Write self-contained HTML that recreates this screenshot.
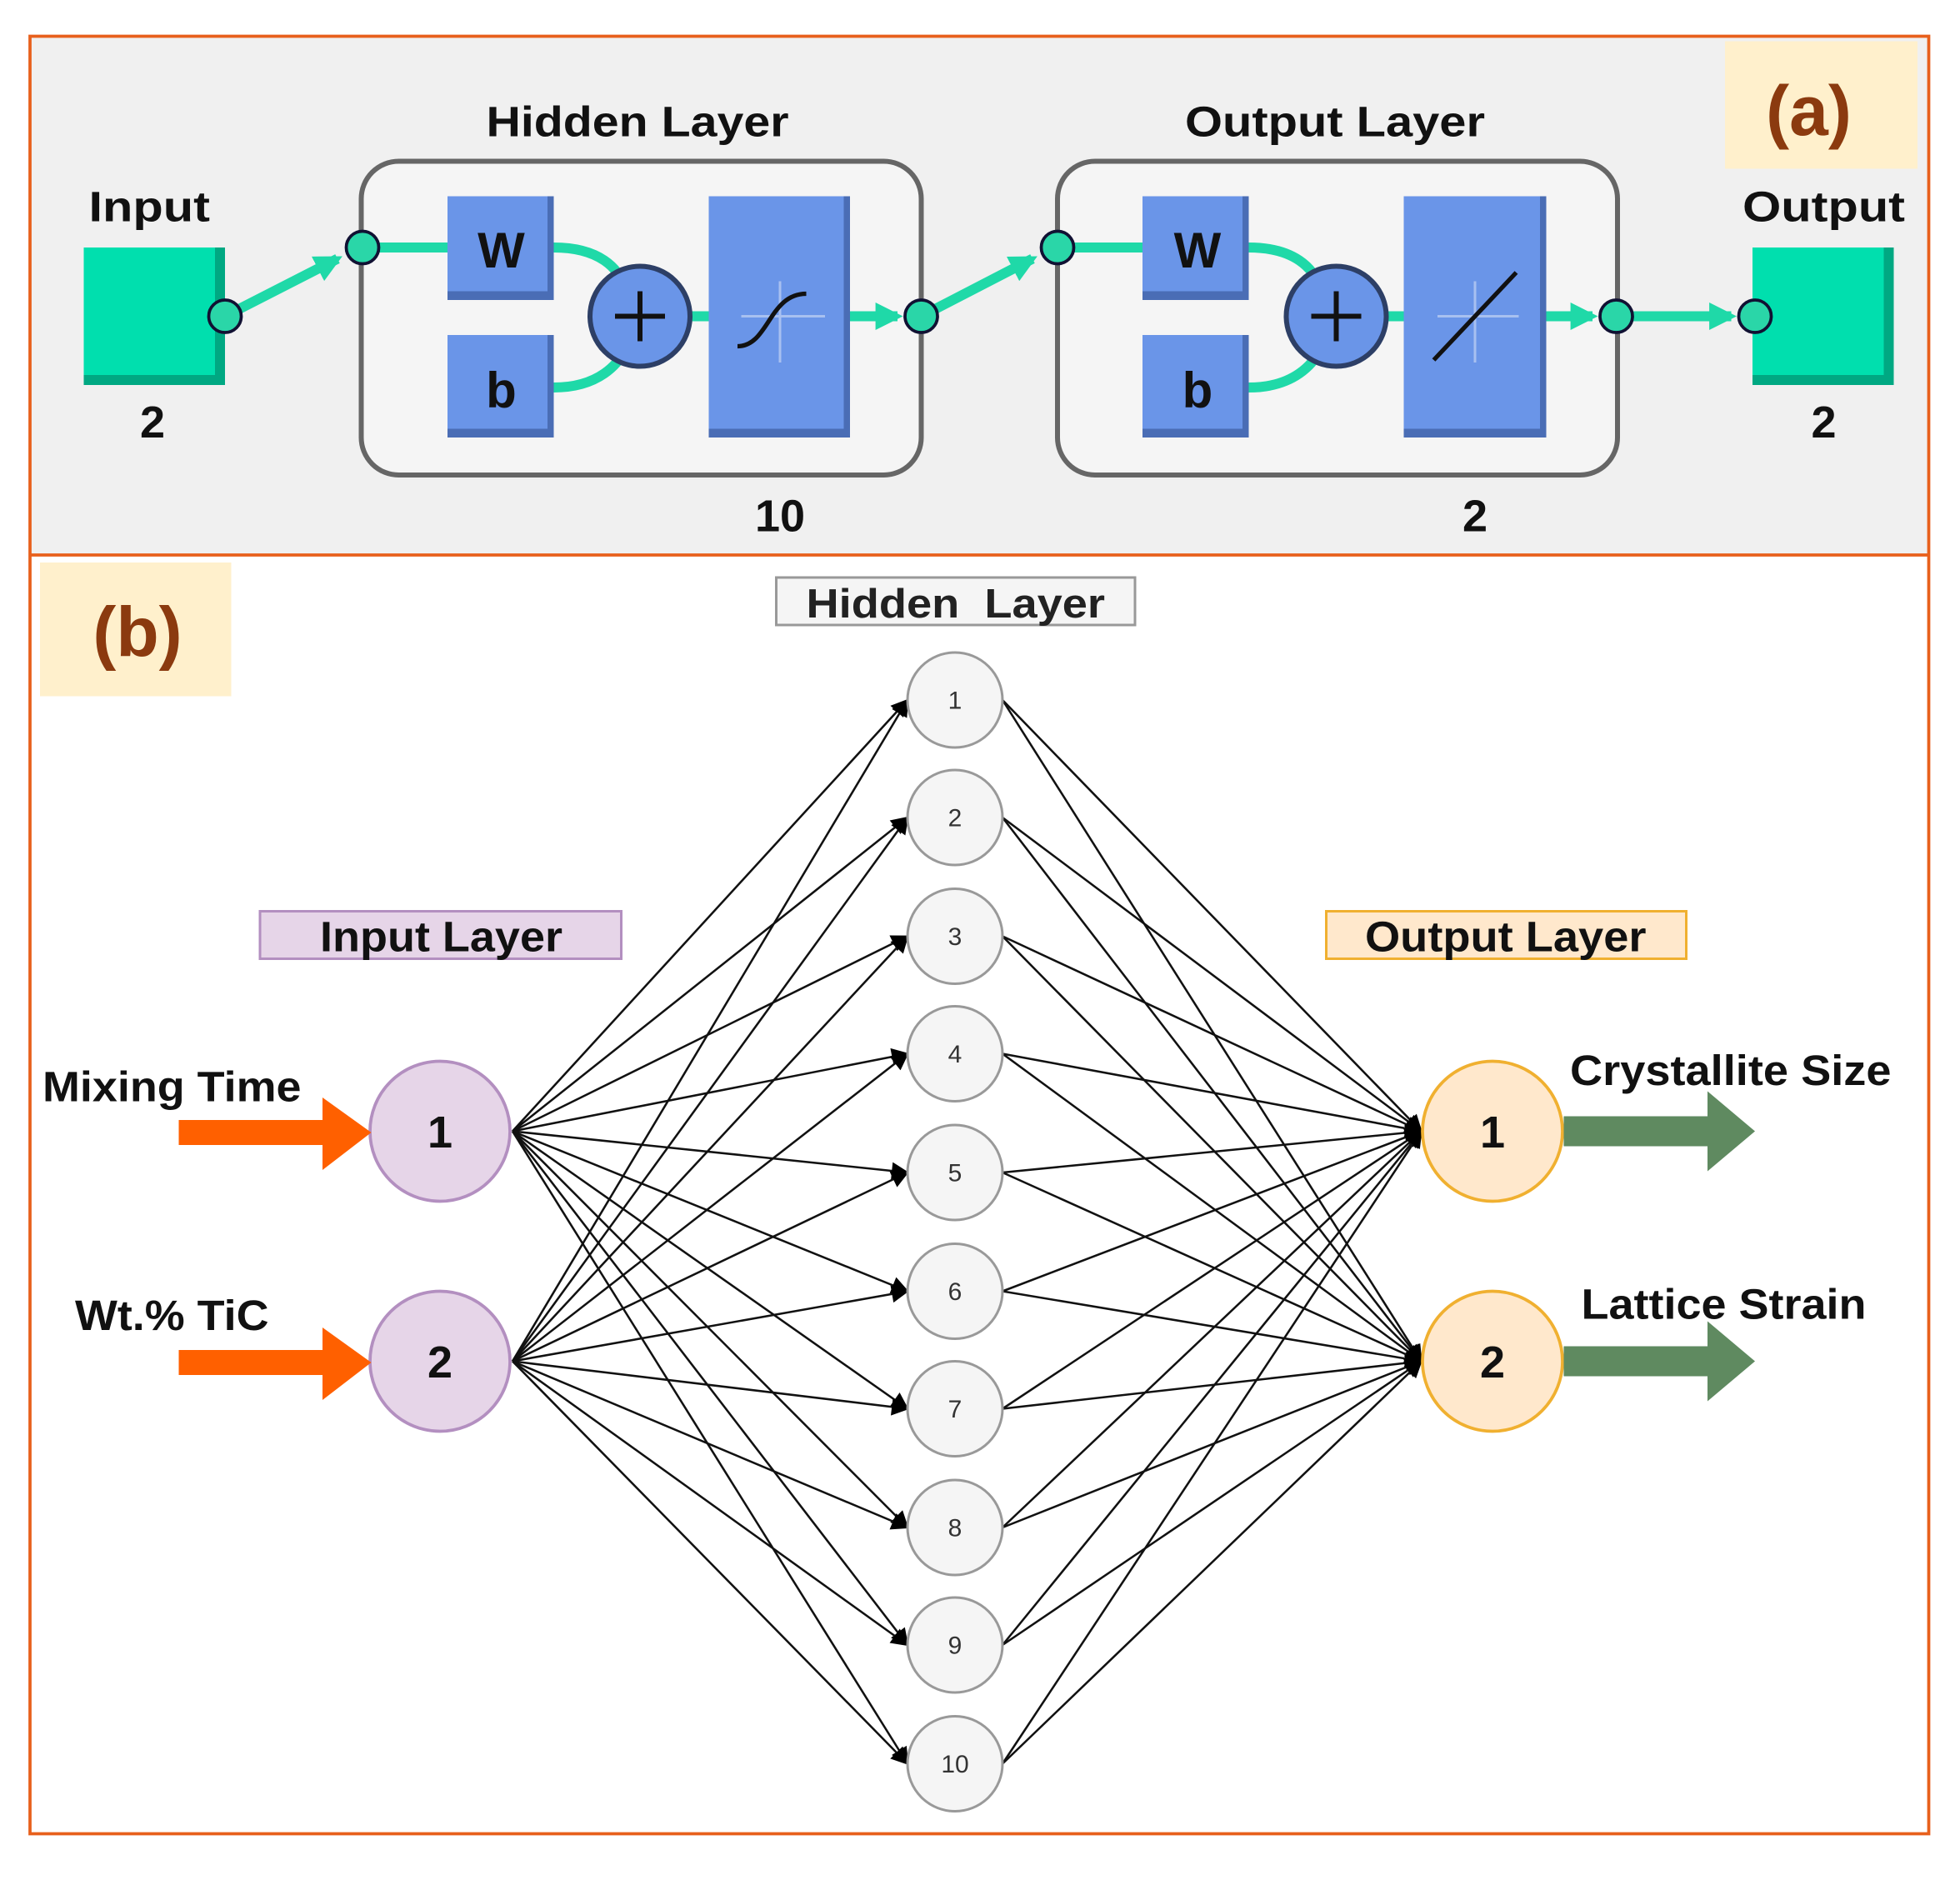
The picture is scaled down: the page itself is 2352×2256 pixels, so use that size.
<!DOCTYPE html>
<html><head><meta charset="utf-8"><style>html,body{margin:0;padding:0;background:#fff}svg{display:block}</style></head>
<body>
<svg width="2352" height="2256" viewBox="0 0 1568 1504" xmlns="http://www.w3.org/2000/svg" font-family="Liberation Sans, Arial, sans-serif">
<defs>
<marker id="ah2" viewBox="0 0 10 10" markerWidth="16" markerHeight="14" refX="9" refY="5" orient="auto" markerUnits="userSpaceOnUse"><path d="M0,0 L10,5 L0,10 z" fill="#000"/></marker>
<marker id="ta" viewBox="0 0 10 10" markerWidth="22" markerHeight="22" refX="8" refY="5" orient="auto" markerUnits="userSpaceOnUse"><path d="M0,0 L10,5 L0,10 z" fill="#1fd9a8"/></marker>
</defs>
<rect x="0" y="0" width="1568" height="1504" fill="#fff"/>
<!-- panel a -->
<rect x="24" y="29" width="1519" height="415" fill="#f0f0f0"/>
<rect x="1380" y="33" width="154" height="102" fill="#fff0cc"/>
<text x="1447" y="108" font-size="56" font-weight="bold" fill="#8b3a0f" text-anchor="middle">(a)</text>

<g font-weight="bold" font-size="34" fill="#111">
<text x="71" y="177" textLength="97" lengthAdjust="spacingAndGlyphs">Input</text>
<text x="389" y="109" textLength="242" lengthAdjust="spacingAndGlyphs">Hidden Layer</text>
<text x="948" y="109" textLength="240" lengthAdjust="spacingAndGlyphs">Output Layer</text>
<text x="1394" y="177" textLength="130" lengthAdjust="spacingAndGlyphs">Output</text>
</g>
<g font-weight="bold" font-size="36" fill="#111" text-anchor="middle">
<text x="122" y="350">2</text>
<text x="624" y="425">10</text>
<text x="1180" y="425">2</text>
<text x="1459" y="350">2</text>
</g>

<rect x="67" y="198" width="113" height="110" fill="#00a882"/>
<rect x="67" y="198" width="105" height="102" fill="#00dfae"/>
<rect x="1402" y="198" width="113" height="110" fill="#00a882"/>
<rect x="1402" y="198" width="105" height="102" fill="#00dfae"/>

<rect x="289" y="129" width="448" height="251" rx="30" fill="#f5f5f5" stroke="#666" stroke-width="4"/>
<rect x="846" y="129" width="448" height="251" rx="30" fill="#f5f5f5" stroke="#666" stroke-width="4"/>

<g stroke="#1fd9a8" stroke-width="8" fill="none">
<line x1="180" y1="253" x2="270" y2="207" marker-end="url(#ta)"/>
<line x1="290" y1="198" x2="358" y2="198"/>
<path d="M443,198 C480,198 495,215 500,230"/>
<path d="M443,310 C480,310 495,290 500,280"/>
<line x1="552" y1="253" x2="567" y2="253"/>
<line x1="680" y1="253" x2="718" y2="253" marker-end="url(#ta)"/>
<line x1="737" y1="253" x2="826" y2="207" marker-end="url(#ta)"/>
<line x1="846" y1="198" x2="914" y2="198"/>
<path d="M999,198 C1036,198 1051,215 1056,230"/>
<path d="M999,310 C1036,310 1051,290 1056,280"/>
<line x1="1109" y1="253" x2="1123" y2="253"/>
<line x1="1237" y1="253" x2="1274" y2="253" marker-end="url(#ta)"/>
<line x1="1293" y1="253" x2="1385" y2="253" marker-end="url(#ta)"/>
</g>

<g>
<rect x="358" y="157" width="85" height="83" fill="#4a6db5"/><rect x="358" y="157" width="80" height="76" fill="#6a95e8"/>
<rect x="358" y="268" width="85" height="82" fill="#4a6db5"/><rect x="358" y="268" width="80" height="75" fill="#6a95e8"/>
<rect x="567" y="157" width="113" height="193" fill="#4a6db5"/><rect x="567" y="157" width="108" height="186" fill="#6a95e8"/>
<rect x="914" y="157" width="85" height="83" fill="#4a6db5"/><rect x="914" y="157" width="80" height="76" fill="#6a95e8"/>
<rect x="914" y="268" width="85" height="82" fill="#4a6db5"/><rect x="914" y="268" width="80" height="75" fill="#6a95e8"/>
<rect x="1123" y="157" width="114" height="193" fill="#4a6db5"/><rect x="1123" y="157" width="109" height="186" fill="#6a95e8"/>
</g>
<g font-weight="bold" font-size="40" fill="#111" text-anchor="middle">
<text x="401" y="214">W</text><text x="401" y="326">b</text>
<text x="958" y="214">W</text><text x="958" y="326">b</text>
</g>
<g stroke="#a8c0f0" stroke-width="2"><line x1="593" y1="253" x2="660" y2="253"/><line x1="624" y1="225" x2="624" y2="290"/>
<line x1="1150" y1="253" x2="1215" y2="253"/><line x1="1180" y1="225" x2="1180" y2="290"/></g>
<path d="M590,277 C615,277 615,235 645,235" stroke="#111" stroke-width="3.5" fill="none"/>
<line x1="1147" y1="288" x2="1213" y2="218" stroke="#111" stroke-width="3.5"/>
<circle cx="512" cy="253" r="40" fill="#6a95e8" stroke="#2d3f66" stroke-width="4"/>
<circle cx="1069" cy="253" r="40" fill="#6a95e8" stroke="#2d3f66" stroke-width="4"/>
<g stroke="#111" stroke-width="4"><line x1="492" y1="253" x2="532" y2="253"/><line x1="512" y1="233" x2="512" y2="273"/>
<line x1="1049" y1="253" x2="1089" y2="253"/><line x1="1069" y1="233" x2="1069" y2="273"/></g>
<g fill="#2ad6a8" stroke="#113" stroke-width="2.5">
<circle cx="180" cy="253" r="13"/><circle cx="290" cy="198" r="13"/><circle cx="737" cy="253" r="13"/>
<circle cx="846" cy="198" r="13"/><circle cx="1293" cy="253" r="13"/><circle cx="1404" cy="253" r="13"/>
</g>

<rect x="24" y="29" width="1519" height="1438" fill="none" stroke="#e8601c" stroke-width="2.5"/>
<line x1="24" y1="444" x2="1543" y2="444" stroke="#e8601c" stroke-width="2.5"/>

<!-- panel b -->
<rect x="32" y="450" width="153" height="107" fill="#fff0cc"/>
<text x="110" y="525" font-size="56" font-weight="bold" fill="#8b3a0f" text-anchor="middle">(b)</text>

<rect x="621" y="462" width="287" height="38" fill="#f5f5f5" stroke="#999" stroke-width="2"/>
<text x="645" y="494" font-size="33" font-weight="bold" fill="#222" textLength="239" lengthAdjust="spacingAndGlyphs" xml:space="preserve">Hidden  Layer</text>
<rect x="208" y="729" width="289" height="38" fill="#e6d5e8" stroke="#b38fc0" stroke-width="2"/>
<text x="256" y="761" font-size="34" font-weight="bold" fill="#111" textLength="194" lengthAdjust="spacingAndGlyphs">Input Layer</text>
<rect x="1061" y="729" width="288" height="38" fill="#ffe8cc" stroke="#f0b030" stroke-width="2"/>
<text x="1092" y="761" font-size="34" font-weight="bold" fill="#111" textLength="225" lengthAdjust="spacingAndGlyphs">Output Layer</text>

<g stroke="#111" stroke-width="1.7" marker-end="url(#ah2)">
<line x1="410" y1="905" x2="726" y2="560"/><line x1="410" y1="905" x2="726" y2="654"/><line x1="410" y1="905" x2="726" y2="749"/><line x1="410" y1="905" x2="726" y2="843"/><line x1="410" y1="905" x2="726" y2="938"/><line x1="410" y1="905" x2="726" y2="1033"/><line x1="410" y1="905" x2="726" y2="1127"/><line x1="410" y1="905" x2="726" y2="1222"/><line x1="410" y1="905" x2="726" y2="1316"/><line x1="410" y1="905" x2="726" y2="1411"/>
<line x1="410" y1="1089" x2="726" y2="560"/><line x1="410" y1="1089" x2="726" y2="654"/><line x1="410" y1="1089" x2="726" y2="749"/><line x1="410" y1="1089" x2="726" y2="843"/><line x1="410" y1="1089" x2="726" y2="938"/><line x1="410" y1="1089" x2="726" y2="1033"/><line x1="410" y1="1089" x2="726" y2="1127"/><line x1="410" y1="1089" x2="726" y2="1222"/><line x1="410" y1="1089" x2="726" y2="1316"/><line x1="410" y1="1089" x2="726" y2="1411"/>
<line x1="802" y1="560" x2="1137" y2="905"/><line x1="802" y1="654" x2="1137" y2="905"/><line x1="802" y1="749" x2="1137" y2="905"/><line x1="802" y1="843" x2="1137" y2="905"/><line x1="802" y1="938" x2="1137" y2="905"/><line x1="802" y1="1033" x2="1137" y2="905"/><line x1="802" y1="1127" x2="1137" y2="905"/><line x1="802" y1="1222" x2="1137" y2="905"/><line x1="802" y1="1316" x2="1137" y2="905"/><line x1="802" y1="1411" x2="1137" y2="905"/>
<line x1="802" y1="560" x2="1137" y2="1089"/><line x1="802" y1="654" x2="1137" y2="1089"/><line x1="802" y1="749" x2="1137" y2="1089"/><line x1="802" y1="843" x2="1137" y2="1089"/><line x1="802" y1="938" x2="1137" y2="1089"/><line x1="802" y1="1033" x2="1137" y2="1089"/><line x1="802" y1="1127" x2="1137" y2="1089"/><line x1="802" y1="1222" x2="1137" y2="1089"/><line x1="802" y1="1316" x2="1137" y2="1089"/><line x1="802" y1="1411" x2="1137" y2="1089"/>
</g>

<g fill="#f5f5f5" stroke="#999" stroke-width="2">
<circle cx="764" cy="560" r="38"/><circle cx="764" cy="654" r="38"/><circle cx="764" cy="749" r="38"/><circle cx="764" cy="843" r="38"/><circle cx="764" cy="938" r="38"/><circle cx="764" cy="1033" r="38"/><circle cx="764" cy="1127" r="38"/><circle cx="764" cy="1222" r="38"/><circle cx="764" cy="1316" r="38"/><circle cx="764" cy="1411" r="38"/>
</g>
<g font-size="20" fill="#333" text-anchor="middle">
<text x="764" y="567">1</text><text x="764" y="661">2</text><text x="764" y="756">3</text><text x="764" y="850">4</text><text x="764" y="945">5</text><text x="764" y="1040">6</text><text x="764" y="1134">7</text><text x="764" y="1229">8</text><text x="764" y="1323">9</text><text x="764" y="1418">10</text>
</g>

<circle cx="352" cy="905" r="56" fill="#e6d5e8" stroke="#b38fc0" stroke-width="2.5"/>
<circle cx="352" cy="1089" r="56" fill="#e6d5e8" stroke="#b38fc0" stroke-width="2.5"/>
<circle cx="1194" cy="905" r="56" fill="#ffe8cc" stroke="#f0b030" stroke-width="2.5"/>
<circle cx="1194" cy="1089" r="56" fill="#ffe8cc" stroke="#f0b030" stroke-width="2.5"/>
<g font-size="36" font-weight="bold" fill="#111" text-anchor="middle"><text x="352" y="918">1</text><text x="352" y="1102">2</text>
<text x="1194" y="918">1</text><text x="1194" y="1102">2</text></g>

<path d="M143,896 L258,896 L258,878 L297,906 L258,936 L258,916 L143,916 z" fill="#ff6000"/>
<path d="M143,1080 L258,1080 L258,1062 L297,1090 L258,1120 L258,1100 L143,1100 z" fill="#ff6000"/>
<path d="M1251,893 L1366,893 L1366,873 L1404,905 L1366,937 L1366,917 L1251,917 z" fill="#5f8a60"/>
<path d="M1251,1077 L1366,1077 L1366,1057 L1404,1089 L1366,1121 L1366,1101 L1251,1101 z" fill="#5f8a60"/>

<g font-size="34" font-weight="bold" fill="#111">
<text x="34" y="881" textLength="207" lengthAdjust="spacingAndGlyphs">Mixing Time</text>
<text x="60" y="1064" textLength="155" lengthAdjust="spacingAndGlyphs">Wt.% TiC</text>
<text x="1256" y="868" textLength="257" lengthAdjust="spacingAndGlyphs">Crystallite Size</text>
<text x="1265" y="1055" textLength="228" lengthAdjust="spacingAndGlyphs">Lattice Strain</text>
</g>
</svg>
</body></html>
